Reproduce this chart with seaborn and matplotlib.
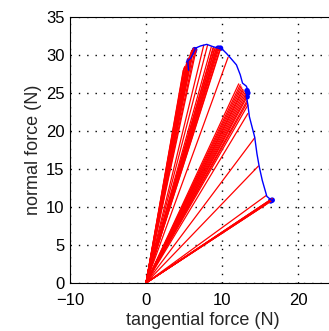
import pandas as pd
import matplotlib
matplotlib.use("Agg")
import matplotlib.pyplot as plt
import seaborn as sns

# endpoints of the red force rays (tangential, normal), all starting at the origin
ray_x = [4.9, 5.0, 5.1, 5.2, 5.3, 5.4, 5.5, 5.5, 5.6, 5.7, 5.8, 5.9, 6.0, 6.1, 6.2, 6.3, 6.5, 6.6,
         7.6, 8.1, 8.6, 8.8, 8.9, 9.0, 9.1, 9.2, 9.3, 9.4, 9.5, 9.6, 9.7, 9.8, 10.8,
         12.2, 12.4, 12.5, 12.6, 12.7, 12.8, 12.9, 13.0, 13.1, 13.2, 13.2, 13.3, 13.3, 13.4, 13.4,
         14.3, 14.8, 15.8,
         15.9, 16.0, 16.1, 16.2, 16.3, 16.4, 16.5, 16.6]
ray_y = [28.0, 28.3, 28.5, 28.2, 28.8, 29.0, 28.4, 29.3, 29.6, 29.1, 30.0, 30.3, 30.6, 30.4, 30.8, 30.9, 30.9, 30.7,
         31.3, 31.3, 31.1, 30.9, 31.0, 30.8, 30.9, 30.7, 30.9, 30.8, 31.0, 30.9, 30.7, 30.8, 29.7,
         26.2, 26.1, 25.9, 25.7, 25.5, 25.4, 25.2, 25.0, 24.8, 24.6, 24.3, 24.0, 23.7, 23.4, 22.3,
         19.1, 15.4, 11.5,
         10.4, 10.7, 10.6, 10.8, 10.7, 10.9, 10.8, 11.1]

# blue boundary curve
curve_x = [5.6, 5.5, 5.9, 6.3, 6.5, 7.2, 8.0, 8.8, 9.5, 10.1, 10.6, 11.3, 11.9, 12.4,
           12.7, 13.2, 13.4, 13.2, 13.4, 13.6, 14.3, 14.6, 14.9, 15.3, 15.9, 16.5, 16.7]
curve_y = [28.0, 29.2, 29.6, 30.4, 30.9, 31.2, 31.4, 31.1, 30.9, 30.7, 30.2, 29.4, 28.7, 27.4,
           26.3, 25.9, 25.4, 24.6, 23.5, 21.9, 19.2, 17.0, 15.3, 13.5, 11.4, 10.9, 10.8]

# blue sample markers
dot_x = [5.5, 5.6, 5.6, 5.7, 6.3, 6.4, 9.5, 9.8, 13.3, 13.4, 13.3, 16.4, 16.6]
dot_y = [28.2, 28.6, 29.0, 29.3, 30.4, 30.7, 30.9, 30.9, 24.5, 25.0, 25.3, 10.8, 10.9]

rows = []
for i, (x, y) in enumerate(zip(ray_x, ray_y)):
    rows.append({"ray": i, "x": 0.0, "y": 0.0})
    rows.append({"ray": i, "x": x, "y": y})
rays = pd.DataFrame(rows)
curve = pd.DataFrame({"x": curve_x, "y": curve_y})
dots = pd.DataFrame({"x": dot_x, "y": dot_y})

sns.set_style("white")
plt.rcParams['font.family'] = ['Liberation Sans', 'DejaVu Sans']

fig = plt.figure(figsize=(3.29, 3.31), dpi=100)
ax = fig.add_axes([70 / 329, 48 / 331, 35 * 7.6 / 329, 266 / 331])

sns.lineplot(data=rays, x="x", y="y", units="ray", estimator=None, sort=False,
             color="red", linewidth=0.9, ax=ax)
sns.lineplot(data=curve, x="x", y="y", sort=False, estimator=None,
             color="blue", linewidth=1.0, ax=ax)
sns.scatterplot(data=dots, x="x", y="y", color="blue", s=16, edgecolor="none", ax=ax)

ax.set_xlim(-10, 25)
ax.set_ylim(0, 35)
ax.set_xticks([-10, 0, 10, 20])
ax.set_yticks(range(0, 36, 5))
ax.set_xticklabels(["\u221210", "0", "10", "20"])
ax.set_axisbelow(True)
ax.grid(True, which="major", linestyle=(0, (1, 5)), color="black",
        linewidth=1.0, alpha=1.0)
ax.tick_params(direction="in", length=3, labelsize=12, colors="black")
ax.tick_params(axis="x", pad=7)
ax.tick_params(axis="y", pad=4)
for s in ax.spines.values():
    s.set_color("black")
    s.set_linewidth(0.8)
ax.set_xlabel("tangential force (N)", fontsize=13, labelpad=3)
ax.set_ylabel("normal force (N)", fontsize=13, labelpad=3)

fig.savefig("out.png", dpi=100)
